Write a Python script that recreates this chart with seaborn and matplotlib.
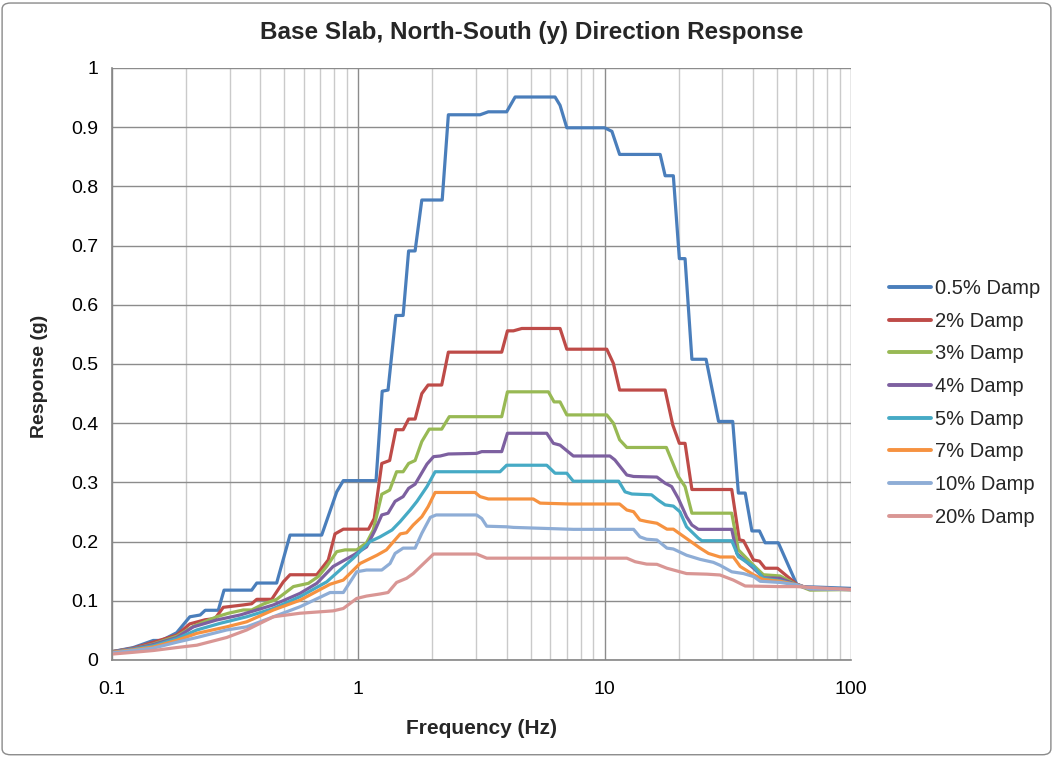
import numpy as np
import pandas as pd
import matplotlib
matplotlib.use("Agg")
import matplotlib.pyplot as plt
import seaborn as sns
from matplotlib.patches import FancyBboxPatch
from matplotlib.ticker import FixedLocator, LogLocator, FuncFormatter, NullFormatter

# ---- response spectra, base slab N-S direction ----
series_labels = ["0.5% Damp", "2% Damp", "3% Damp", "4% Damp",
                 "5% Damp", "7% Damp", "10% Damp", "20% Damp"]
series_colors = ["#4A7EBB", "#BE4B48", "#98B954", "#7D60A0",
                 "#46AAC5", "#F69240", "#8EADD6", "#D99694"]

freq_d05 = [0.1, 0.122, 0.147, 0.159, 0.183, 0.207, 0.228, 0.239, 0.270, 0.285, 0.369, 0.387,
            0.466, 0.528, 0.710, 0.817, 0.869, 1.18, 1.25, 1.32, 1.42, 1.52, 1.60, 1.70, 1.81,
            2.19, 2.32, 3.12, 3.37, 4.00, 4.33, 6.29, 6.59, 7.02, 10.0, 10.7, 11.5, 16.8, 17.6,
            19.0, 20.1, 21.2, 22.6, 25.8, 29.0, 33.1, 34.9, 37.2, 39.6, 42.5, 44.8, 50.7, 60.2,
            63.9, 100]
resp_d05 = [0.014, 0.021, 0.033, 0.033, 0.046, 0.073, 0.076, 0.084, 0.084, 0.118, 0.118, 0.130,
            0.130, 0.211, 0.211, 0.284, 0.303, 0.303, 0.454, 0.456, 0.582, 0.582, 0.691, 0.691,
            0.777, 0.777, 0.921, 0.921, 0.926, 0.926, 0.951, 0.951, 0.937, 0.899, 0.899, 0.893,
            0.854, 0.854, 0.818, 0.818, 0.678, 0.678, 0.508, 0.508, 0.403, 0.403, 0.282, 0.282,
            0.218, 0.218, 0.198, 0.198, 0.128, 0.124, 0.121]

freq_d2 = [0.1, 0.122, 0.147, 0.183, 0.207, 0.239, 0.262, 0.283, 0.341, 0.369, 0.387, 0.445,
           0.496, 0.528, 0.678, 0.755, 0.804, 0.869, 1.10, 1.16, 1.245, 1.34, 1.42, 1.52, 1.60,
           1.70, 1.81, 1.92, 2.18, 2.32, 3.82, 4.03, 4.26, 4.61, 6.59, 7.02, 10.2, 10.85, 11.5,
           17.6, 18.9, 20.1, 21.2, 22.6, 32.8, 35.2, 36.6, 40.2, 42.5, 44.8, 50.3, 60.2, 68.2, 100]
resp_d2 = [0.014, 0.020, 0.030, 0.042, 0.061, 0.068, 0.070, 0.089, 0.093, 0.095, 0.1025, 0.1025,
           0.132, 0.144, 0.144, 0.169, 0.213, 0.221, 0.221, 0.239, 0.332, 0.337, 0.389, 0.389,
           0.407, 0.407, 0.450, 0.4645, 0.4645, 0.520, 0.520, 0.556, 0.556, 0.560, 0.560, 0.525,
           0.525, 0.501, 0.456, 0.456, 0.397, 0.366, 0.366, 0.288, 0.288, 0.203, 0.2015, 0.169,
           0.167, 0.155, 0.155, 0.128, 0.120, 0.119]

freq_d3 = [0.1, 0.122, 0.147, 0.183, 0.214, 0.266, 0.297, 0.341, 0.369, 0.412, 0.466, 0.545,
           0.627, 0.688, 0.744, 0.817, 0.883, 0.985, 1.08, 1.15, 1.245, 1.34, 1.43, 1.52, 1.60,
           1.70, 1.81, 1.94, 2.18, 2.34, 3.82, 4.03, 5.91, 6.23, 6.59, 7.02, 10.2, 10.85, 11.5,
           12.3, 17.8, 19.9, 21.2, 22.6, 32.8, 34.9, 40.2, 44.1, 51.5, 60.2, 68.2, 100]
resp_d3 = [0.014, 0.019, 0.027, 0.040, 0.057, 0.073, 0.079, 0.0845, 0.0845, 0.0946, 0.1025, 0.124,
           0.1295, 0.141, 0.158, 0.183, 0.186, 0.186, 0.198, 0.2196, 0.280, 0.287, 0.318, 0.318,
           0.332, 0.337, 0.369, 0.390, 0.390, 0.411, 0.411, 0.453, 0.453, 0.436, 0.436, 0.414,
           0.414, 0.400, 0.372, 0.359, 0.359, 0.310, 0.293, 0.248, 0.248, 0.186, 0.160, 0.144,
           0.142, 0.127, 0.118, 0.119]

freq_d4 = [0.1, 0.122, 0.147, 0.183, 0.214, 0.266, 0.331, 0.452, 0.580, 0.678, 0.790, 0.954,
           1.08, 1.17, 1.245, 1.32, 1.41, 1.52, 1.60, 1.70, 1.90, 2.02, 2.15, 2.32, 3.02, 3.17,
           3.82, 4.03, 5.82, 6.19, 6.59, 7.46, 10.5, 11.0, 12.3, 13.1, 16.3, 17.6, 18.7, 19.9,
           21.5, 22.6, 24.0, 32.8, 34.4, 40.2, 44.1, 51.5, 60.2, 68.2, 100]
resp_d4 = [0.014, 0.019, 0.026, 0.038, 0.056, 0.0676, 0.076, 0.093, 0.1126, 0.1295, 0.158, 0.177,
           0.191, 0.2196, 0.245, 0.248, 0.268, 0.276, 0.290, 0.297, 0.331, 0.3435, 0.3446, 0.348,
           0.349, 0.352, 0.352, 0.383, 0.383, 0.366, 0.363, 0.3446, 0.3446, 0.338, 0.3125, 0.310,
           0.309, 0.2986, 0.293, 0.273, 0.242, 0.228, 0.2207, 0.2207, 0.180, 0.155, 0.139, 0.138,
           0.127, 0.120, 0.119]

freq_d5 = [0.1, 0.122, 0.147, 0.183, 0.221, 0.275, 0.352, 0.452, 0.580, 0.744, 0.954, 1.115,
           1.225, 1.37, 1.48, 1.62, 1.73, 1.90, 2.05, 3.76, 4.00, 5.82, 6.29, 7.02, 7.46, 11.4,
           12.1, 12.9, 15.5, 16.5, 17.6, 19.0, 20.2, 21.5, 24.0, 24.8, 32.8, 34.9, 40.2, 44.1,
           51.5, 60.2, 68.2, 100]
resp_d5 = [0.013, 0.018, 0.024, 0.036, 0.0507, 0.062, 0.073, 0.087, 0.107, 0.132, 0.172, 0.200,
           0.208, 0.2196, 0.234, 0.253, 0.268, 0.293, 0.318, 0.318, 0.329, 0.329, 0.3155, 0.3155,
           0.302, 0.302, 0.284, 0.2804, 0.279, 0.270, 0.262, 0.260, 0.2505, 0.225, 0.2057, 0.2015,
           0.2015, 0.1745, 0.158, 0.138, 0.134, 0.127, 0.120, 0.119]

freq_d7 = [0.1, 0.122, 0.147, 0.183, 0.221, 0.292, 0.352, 0.452, 0.580, 0.768, 0.869, 1.016,
           1.19, 1.30, 1.41, 1.48, 1.57, 1.67, 1.81, 1.92, 2.05, 2.98, 3.12, 3.37, 5.13, 5.47,
           7.24, 11.5, 12.3, 13.1, 13.9, 14.8, 16.3, 17.9, 19.0, 24.4, 26.4, 29.4, 33.3, 35.5,
           40.2, 44.1, 51.5, 60.2, 68.2, 100]
resp_d7 = [0.013, 0.017, 0.022, 0.033, 0.045, 0.056, 0.0645, 0.0845, 0.101, 0.128, 0.135, 0.163,
           0.177, 0.186, 0.203, 0.213, 0.215, 0.228, 0.242, 0.259, 0.283, 0.283, 0.276, 0.272,
           0.272, 0.265, 0.2635, 0.2635, 0.2534, 0.2505, 0.2365, 0.234, 0.231, 0.221, 0.221,
           0.189, 0.180, 0.174, 0.174, 0.158, 0.144, 0.136, 0.133, 0.127, 0.120, 0.119]

freq_d10 = [0.1, 0.122, 0.147, 0.183, 0.221, 0.292, 0.352, 0.452, 0.580, 0.768, 0.869, 0.985,
            1.08, 1.245, 1.345, 1.41, 1.52, 1.70, 1.81, 1.96, 2.07, 3.02, 3.17, 3.32, 4.00, 4.26,
            7.46, 13.1, 13.9, 14.8, 16.3, 17.9, 19.0, 21.5, 24.4, 27.6, 29.4, 32.8, 36.6, 40.2,
            42.8, 51.5, 60.2, 68.2, 100]
resp_d10 = [0.012, 0.016, 0.020, 0.030, 0.038, 0.0507, 0.056, 0.073, 0.090, 0.114, 0.114, 0.149,
            0.152, 0.152, 0.163, 0.180, 0.189, 0.189, 0.214, 0.241, 0.245, 0.245, 0.239, 0.226,
            0.225, 0.224, 0.2207, 0.2207, 0.208, 0.204, 0.2027, 0.189, 0.1875, 0.177, 0.170,
            0.165, 0.160, 0.149, 0.146, 0.141, 0.133, 0.131, 0.127, 0.120, 0.119]

freq_d20 = [0.1, 0.122, 0.147, 0.183, 0.221, 0.292, 0.352, 0.452, 0.580, 0.790, 0.869, 0.985,
            1.08, 1.225, 1.32, 1.43, 1.57, 1.67, 1.81, 2.02, 3.02, 3.32, 12.3, 13.3, 14.8, 16.3,
            17.9, 21.5, 26.0, 29.4, 33.3, 37.2, 51.5, 60.2, 100]
resp_d20 = [0.010, 0.013, 0.016, 0.021, 0.025, 0.038, 0.0507, 0.073, 0.079, 0.083, 0.087, 0.104,
            0.108, 0.1115, 0.114, 0.131, 0.138, 0.146, 0.160, 0.179, 0.179, 0.172, 0.172, 0.166,
            0.162, 0.1616, 0.155, 0.146, 0.145, 0.1436, 0.135, 0.125, 0.124, 0.124, 0.119]

x_ticks = [0.1, 1, 10, 100]
x_tick_labels = ["0.1", "1", "10", "100"]
y_ticks = [0, 0.1, 0.2, 0.3, 0.4, 0.5, 0.6, 0.7, 0.8, 0.9, 1.0]

# ---- long-form table ----
freq_sets = [freq_d05, freq_d2, freq_d3, freq_d4, freq_d5, freq_d7, freq_d10, freq_d20]
resp_sets = [resp_d05, resp_d2, resp_d3, resp_d4, resp_d5, resp_d7, resp_d10, resp_d20]
frames = []
for lab, fr, rs in zip(series_labels, freq_sets, resp_sets):
    frames.append(pd.DataFrame({"freq": fr, "resp": rs, "series": lab}))
df = pd.concat(frames, ignore_index=True)

# ---- styling ----
sns.set_theme(style="white")
plt.rcParams["font.family"] = ["Liberation Sans", "DejaVu Sans"]

fig = plt.figure(figsize=(10.53, 7.57), dpi=100)
ax = fig.add_axes([112 / 1053, 1 - 660 / 757, (851 - 112) / 1053, (660 - 68) / 757])

sns.lineplot(data=df, x="freq", y="resp", hue="series", hue_order=series_labels,
             palette=series_colors, estimator=None, sort=False, linewidth=2.3, ax=ax)

ax.set_xscale("log")
ax.set_xlim(0.1, 100)
ax.set_ylim(0, 1)
ax.xaxis.set_major_locator(FixedLocator(x_ticks))
ax.set_xticklabels(x_tick_labels)
ax.xaxis.set_minor_locator(LogLocator(base=10, subs=np.arange(2, 10)))
ax.xaxis.set_minor_formatter(NullFormatter())
ax.yaxis.set_major_locator(FixedLocator(y_ticks))
ax.yaxis.set_major_formatter(FuncFormatter(lambda v, _: f"{round(v, 1):g}"))

ax.grid(which="major", color="#8C8C8C", linewidth=1.0)
ax.grid(which="minor", axis="x", color="#CACACA", linewidth=1.0)
ax.set_axisbelow(True)
for side in ("top", "right"):
    ax.spines[side].set_visible(False)
for side in ("left", "bottom"):
    ax.spines[side].set_color("#868686")
    ax.spines[side].set_linewidth(1.2)

ax.tick_params(axis="both", which="major", direction="out", length=5, width=1,
               color="#868686", labelsize=14, labelcolor="black", pad=5)
ax.tick_params(axis="x", which="minor", length=0)
ax.tick_params(axis="x", which="major", pad=10)

ax.set_xlabel("")
ax.set_ylabel("")
fig.text(481 / 1053, 1 - 728 / 757, "Frequency (Hz)", ha="center", va="center",
         fontsize=15, fontweight="bold")
fig.text(40 / 1053, 1 - 376 / 757, "Response (g)", ha="center", va="center",
         rotation=90, fontsize=14, fontweight="bold")
fig.text(532 / 1053, 1 - 32 / 757, "Base Slab, North-South (y) Direction Response",
         ha="center", va="center", fontsize=17.5, fontweight="bold")

handles, labels = ax.get_legend_handles_labels()
ax.get_legend().remove()
leg = fig.legend(handles, labels, loc="upper left", bbox_to_anchor=(889 / 1053, 1 - 279 / 757),
                 frameon=False, fontsize=14.5, handlelength=2.1, handletextpad=0.2,
                 labelspacing=0.68, borderpad=0, borderaxespad=0)
for line in leg.get_lines():
    line.set_linewidth(2.8)

border = FancyBboxPatch((0.002, 0.003), 0.996, 0.993, boxstyle="round,pad=0,rounding_size=0.008",
                        transform=fig.transFigure, fill=False, edgecolor="#8A8A8A", linewidth=1.0)
fig.patches.append(border)

fig.savefig("out.png", dpi=100)
